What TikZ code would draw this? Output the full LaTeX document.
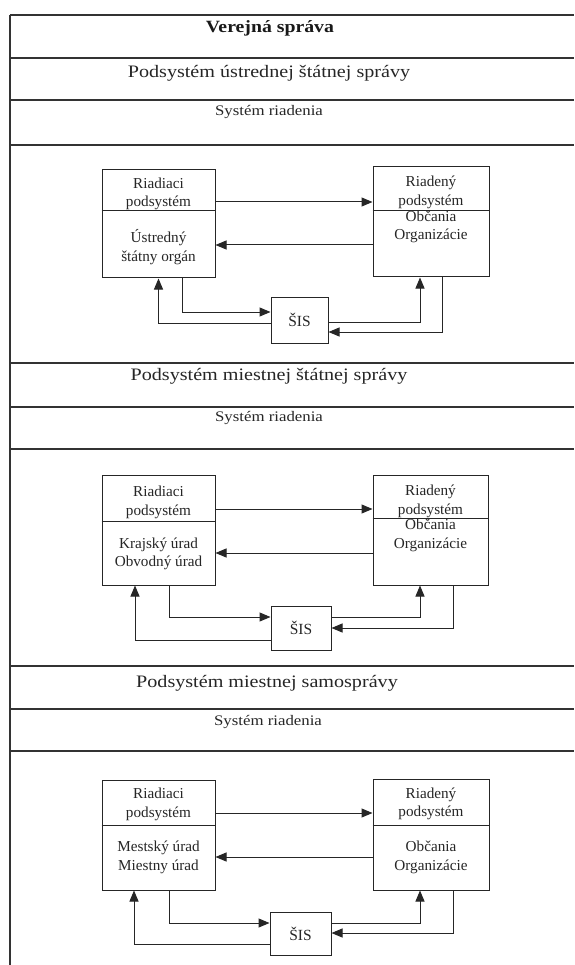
\documentclass[tikz,border=0pt]{standalone}
\usepackage{fontspec}
\setmainfont{Liberation Serif}
\newfontfamily\headfont[FakeStretch=1.15]{Liberation Serif}
\usetikzlibrary{arrows.meta}
\tikzset{
  frameline/.style={line width=1.2pt, draw=black!80},
  blk/.style={draw=black!85, line width=1pt, inner sep=0pt, text=black!85},
  divl/.style={line width=1pt, draw=black!85},
  arr/.style={line width=1pt, draw=black!85, -{Triangle[length=11pt,width=9pt]}},
  btxt/.style={font=\fontsize{15.2}{18.5}\selectfont, align=center, inner sep=0pt, text=black!85},
  head/.style={font=\headfont\fontsize{17.5}{20}\selectfont, inner sep=0pt, text=black!85},
  sub/.style={font=\headfont\fontsize{14.6}{17}\selectfont, inner sep=0pt, text=black!85},
  top/.style={font=\headfont\bfseries\fontsize{17.2}{20}\selectfont, inner sep=0pt, text=black!90},
  sis/.style={font=\fontsize{15.5}{18}\selectfont}
}
\begin{document}
\begin{tikzpicture}[x=1pt,y=-1pt]
\useasboundingbox[fill=white] (0,0) rectangle (574,965);
% frame
\draw[frameline] (10,15) -- (10,965);
\foreach \yy in {15,58,100,145,363,407,449,666,709,751}
  \draw[frameline] (10,\yy) -- (574,\yy);
% headings
\node[top]  (t0) at (270,28) {Verejná správa};
\node[head] (h1) at (269,73) {Podsystém ústrednej štátnej správy};
\node[sub]  (s1) at (269,112) {Systém riadenia};
\node[head] (h2) at (269,376) {Podsystém miestnej štátnej správy};
\node[sub]  (s2) at (269,418) {Systém riadenia};
\node[head] (h3) at (267,683) {Podsystém miestnej samosprávy};
\node[sub]  (s3) at (268,722) {Systém riadenia};

% ===== section 1 =====
\node[blk, minimum width=113pt, minimum height=108pt] (L1) at (158.5,224) {};
\node[blk, minimum width=116pt, minimum height=110pt] (R1) at (431,222) {};
\node[blk, sis, minimum width=57pt, minimum height=46pt] (S1) at (299.5,320) {ŠIS};
\draw[divl] (L1.west |- 0,211) -- (L1.east |- 0,211);
\draw[divl] (R1.west |- 0,211) -- (R1.east |- 0,211);
\node[btxt] (l1a) at (158.5,194) {Riadiaci\\podsystém};
\node[btxt] (l1b) at (158.5,247) {Ústredný\\štátny orgán};
\node[btxt] (r1a) at (431,192.5) {Riadený\\podsystém};
\node[btxt] (r1b) at (431,227) {Občania\\Organizácie};
\draw[arr] (L1.east |- 0,202) -- (R1.west |- 0,202);
\draw[arr] (R1.west |- 0,245) -- (L1.east |- 0,245);
\draw[arr] (L1.south -| 182,0) |- (S1.west |- 0,312);
\draw[arr] (S1.west |- 0,323) -| (L1.south);
\draw[arr] (S1.east |- 0,322) -| (R1.south -| 420,0);
\draw[arr] (R1.south -| 442,0) |- (S1.east |- 0,332);

% ===== section 2 =====
\node[blk, minimum width=113pt, minimum height=110pt] (L2) at (158.5,530) {};
\node[blk, minimum width=115pt, minimum height=110pt] (R2) at (430.5,530) {};
\node[blk, sis, minimum width=60pt, minimum height=44pt] (S2) at (301,628) {ŠIS};
\draw[divl] (L2.west |- 0,521) -- (L2.east |- 0,521);
\draw[divl] (R2.west |- 0,518) -- (R2.east |- 0,518);
\node[btxt] (l2a) at (158.5,502.5) {Riadiaci\\podsystém};
\node[btxt] (l2b) at (158.5,554) {Krajský úrad\\Obvodný úrad};
\node[btxt] (r2a) at (430.5,501.5) {Riadený\\podsystém};
\node[btxt] (r2b) at (430.5,535.5) {Občania\\Organizácie};
\draw[arr] (L2.east |- 0,509) -- (R2.west |- 0,509);
\draw[arr] (R2.west |- 0,553) -- (L2.east |- 0,553);
\draw[arr] (L2.south -| 169,0) |- (S2.west |- 0,617);
\draw[arr] (S2.west |- 0,640) -| (L2.south -| 135,0);
\draw[arr] (S2.east |- 0,617) -| (R2.south -| 420,0);
\draw[arr] (R2.south -| 453,0) |- (S2.east |- 0,628);

% ===== section 3 =====
\node[blk, minimum width=113pt, minimum height=110pt] (L3) at (158.5,835) {};
\node[blk, minimum width=116pt, minimum height=111pt] (R3) at (431,834.5) {};
\node[blk, sis, minimum width=61pt, minimum height=43pt] (S3) at (300.5,933.5) {ŠIS};
\draw[divl] (L3.west |- 0,825) -- (L3.east |- 0,825);
\draw[divl] (R3.west |- 0,825) -- (R3.east |- 0,825);
\node[btxt] (l3a) at (158.5,804.5) {Riadiaci\\podsystém};
\node[btxt] (l3b) at (158.5,857.5) {Mestský úrad\\Miestny úrad};
\node[btxt] (r3a) at (431,804) {Riadený\\podsystém};
\node[btxt] (r3b) at (431,857.5) {Občania\\Organizácie};
\draw[arr] (L3.east |- 0,813) -- (R3.west |- 0,813);
\draw[arr] (R3.west |- 0,857) -- (L3.east |- 0,857);
\draw[arr] (L3.south -| 169,0) |- (S3.west |- 0,923);
\draw[arr] (S3.west |- 0,944) -| (L3.south -| 134,0);
\draw[arr] (S3.east |- 0,923) -| (R3.south -| 420,0);
\draw[arr] (R3.south -| 453,0) |- (S3.east |- 0,933);
\end{tikzpicture}
\end{document}
